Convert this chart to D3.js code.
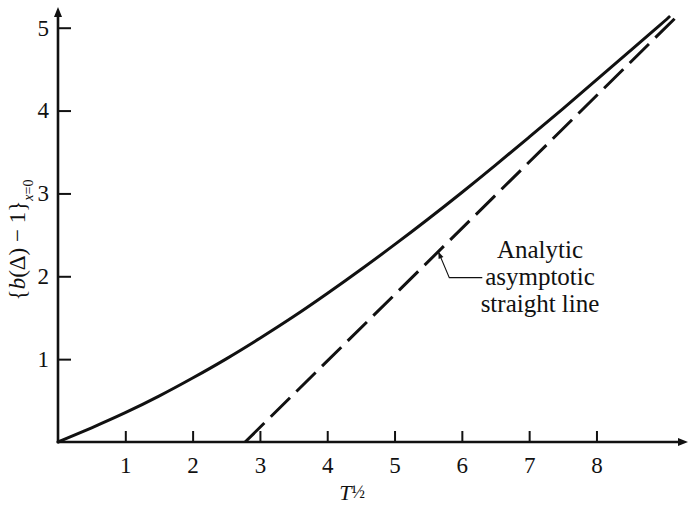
<!DOCTYPE html>
<html><head><meta charset="utf-8">
<script src="https://cdn.jsdelivr.net/npm/d3@7"></script>
<style>body{margin:0;background:#fff}</style>
</head><body><svg id="c" width="689" height="508"></svg>
<script>
// ---- data ----
const curveT = [0, 0.5, 1, 1.5, 2, 2.5, 3, 3.5, 4, 4.5, 5, 5.5, 6, 6.5, 7, 7.5, 8, 8.5, 9, 9.08];
const curveV = [0, 0.17, 0.35, 0.55, 0.77, 1.00, 1.25, 1.51, 1.79, 2.08, 2.38, 2.69, 3.01, 3.34, 3.68, 4.02, 4.37, 4.72, 5.07, 5.13];
const asymT = [2.78, 9.25];
const asymV = [0, 5.18];
const xTicks = [1, 2, 3, 4, 5, 6, 7, 8];
const yTicks = [1, 2, 3, 4, 5];
const noteLines = ["Analytic", "asymptotic", "straight line"];
const notePointT = 5.65;

const FONT = "'Liberation Serif','Times New Roman',serif";
const INK = "#111";

const svg = d3.select("#c");
const x = d3.scaleLinear().domain([0, 9.36]).range([58, 688]);
const y = d3.scaleLinear().domain([0, 5.25]).range([442, 7]);

// axes ticks
const gx = svg.append("g").attr("transform", `translate(0,${y(0)})`)
  .call(d3.axisBottom(x).tickValues(xTicks).tickSizeInner(-11).tickSizeOuter(0).tickPadding(15).tickFormat(d3.format("d")));
const gy = svg.append("g").attr("transform", `translate(${x(0)},0)`)
  .call(d3.axisLeft(y).tickValues(yTicks).tickSizeInner(-13).tickSizeOuter(0).tickPadding(9).tickFormat(d3.format("d")));
[gx, gy].forEach(g => {
  g.select(".domain").remove();
  g.selectAll(".tick line").attr("stroke", INK).attr("stroke-width", 2);
  g.selectAll(".tick text").attr("fill", INK).style("font-family", FONT).style("font-size", "23px");
});

// axis lines with arrowheads
const x0 = x(0), y0 = y(0), xEnd = x.range()[1], yEnd = y.range()[1];
svg.append("line").attr("x1", x0).attr("x2", xEnd - 6).attr("y1", y0).attr("y2", y0)
  .attr("stroke", INK).attr("stroke-width", 2.6);
svg.append("path").attr("d", `M${xEnd},${y0} L${xEnd - 10},${y0 - 4} L${xEnd - 10},${y0 + 4} Z`).attr("fill", INK);
svg.append("line").attr("x1", x0).attr("x2", x0).attr("y1", y0 + 1.3).attr("y2", yEnd + 6)
  .attr("stroke", INK).attr("stroke-width", 2.6);
svg.append("path").attr("d", `M${x0},${yEnd} L${x0 - 4},${yEnd + 10} L${x0 + 4},${yEnd + 10} Z`).attr("fill", INK);

// curves
svg.append("path").datum(curveT.map((t, i) => [t, curveV[i]]))
  .attr("d", d3.line().x(d => x(d[0])).y(d => y(d[1])).curve(d3.curveBasis)).attr("fill", "none")
  .attr("stroke", INK).attr("stroke-width", 3).attr("stroke-linecap", "round");
svg.append("path").datum(asymT.map((t, i) => [t, asymV[i]]))
  .attr("d", d3.line().x(d => x(d[0])).y(d => y(d[1]))).attr("fill", "none")
  .attr("stroke", INK).attr("stroke-width", 3).attr("stroke-dasharray", "27 9");

// annotation
const slope = (asymV[1] - asymV[0]) / (asymT[1] - asymT[0]);
const tipX = x(notePointT), tipY = y(slope * (notePointT - asymT[0]));
const elbowX = tipX + 11, elbowY = tipY + 26;
svg.append("path").attr("d", `M${tipX},${tipY} L${elbowX},${elbowY} L${elbowX + 33},${elbowY}`)
  .attr("fill", "none").attr("stroke", INK).attr("stroke-width", 1.1);
const ang = Math.atan2(elbowY - tipY, elbowX - tipX);
const ah = 7, aw = 2.6;
const bx = tipX + ah * Math.cos(ang), by = tipY + ah * Math.sin(ang);
svg.append("path").attr("d",
  `M${tipX},${tipY} L${bx - aw * Math.sin(ang)},${by + aw * Math.cos(ang)} L${bx + aw * Math.sin(ang)},${by - aw * Math.cos(ang)} Z`)
  .attr("fill", INK);
const note = svg.append("text").attr("text-anchor", "middle").attr("fill", INK)
  .style("font-family", FONT).style("font-size", "25px");
noteLines.forEach((s, i) => note.append("tspan").attr("x", 540).attr("y", 258 + i * 27).text(s));

// x label
const xl = svg.append("text").attr("x", 352).attr("y", 500).attr("text-anchor", "middle").attr("fill", INK)
  .style("font-family", FONT).style("font-size", "22px");
xl.append("tspan").style("font-style", "italic").text("T");
xl.append("tspan").attr("dy", -2).style("font-size", "18px").text("½");

// y label
const yl = svg.append("text").attr("transform", "translate(25,240) rotate(-90)").attr("text-anchor", "middle")
  .attr("fill", INK).style("font-family", FONT).style("font-size", "23px");
yl.append("tspan").text("{");
yl.append("tspan").style("font-style", "italic").text("b");
yl.append("tspan").text("(Δ) − 1}");
yl.append("tspan").attr("dy", 8).style("font-size", "14px").style("font-style", "italic").text("x");
yl.append("tspan").style("font-size", "14px").text("=0");
</script></body></html>
